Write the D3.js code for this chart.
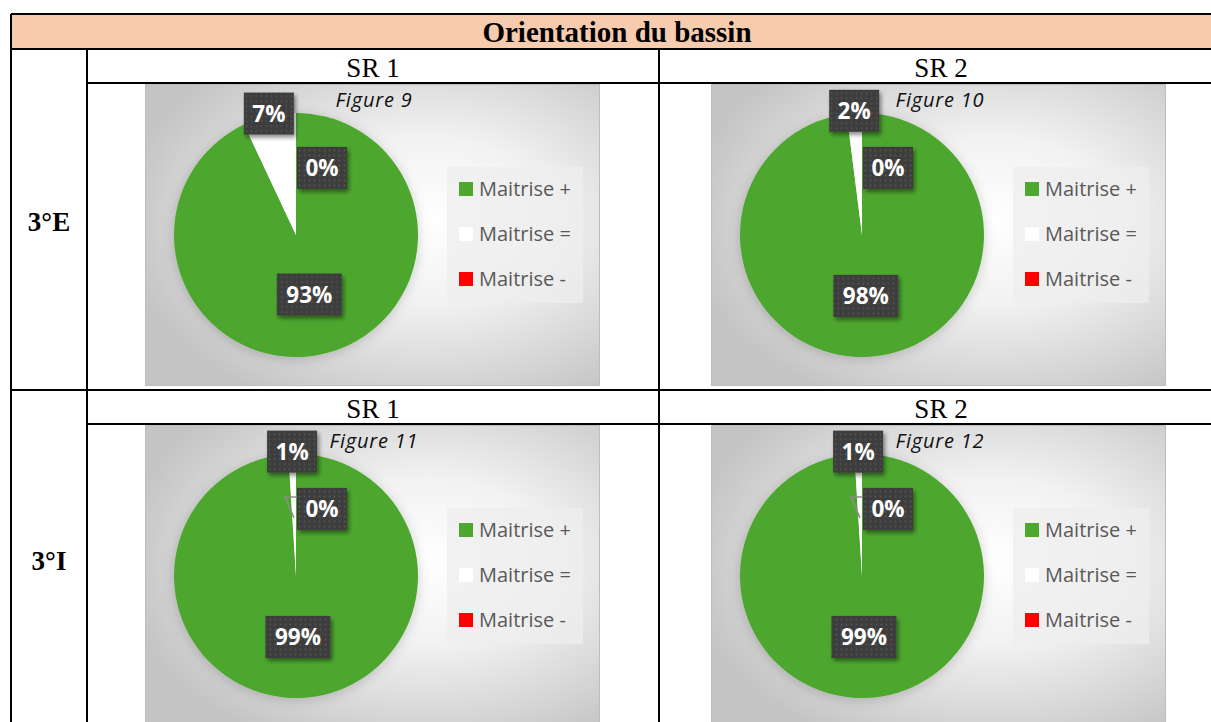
<!DOCTYPE html>
<html>
<head>
<meta charset="utf-8">
<script src="https://cdnjs.cloudflare.com/ajax/libs/d3/7.8.5/d3.min.js"></script>
<style>
  body { margin: 0; background: #fff; }
  svg { display: block; }
</style>
</head>
<body>
<svg id="chart" width="1211" height="722"></svg>
<script>
// data
const tableTitle = "Orientation du bassin";
const rowLabels = ["3°E", "3°I"];
const colLabels = ["SR 1", "SR 2"];
const categories = ["Maitrise +", "Maitrise =", "Maitrise -"];
const sliceColors = ["#4ea72e", "#ffffff", "#ff0000"];
const figureTitles = ["Figure 9", "Figure 10", "Figure 11", "Figure 12"];
const fig9 = [93, 7, 0];
const fig10 = [98, 2, 0];
const fig11 = [99, 1, 0];
const fig12 = [99, 1, 0];
const figures = [fig9, fig10, fig11, fig12];

const svg = d3.select("#chart");
const defs = svg.append("defs");

// table layout
const tLeft = 11, tRight = 1223, tTop = 14;
const titleBottom = 49;
const col1 = 87, col2 = 659;
const rowTops = [49, 390];
const srH = 34;
const chartH = 302, chartW = 455;
const chartX = [145, 711];

// shared defs
const bg = defs.append("radialGradient").attr("id", "bg")
  .attr("cx", "62%").attr("cy", "45%").attr("r", "68%");
bg.append("stop").attr("offset", "0%").attr("stop-color", "#ffffff");
bg.append("stop").attr("offset", "40%").attr("stop-color", "#f2f2f2");
bg.append("stop").attr("offset", "100%").attr("stop-color", "#c4c4c4");

const pat = defs.append("pattern").attr("id", "dots")
  .attr("width", 5).attr("height", 5).attr("patternUnits", "userSpaceOnUse");
pat.append("rect").attr("width", 5).attr("height", 5).attr("fill", "#3d3d3d");
pat.append("circle").attr("cx", 2.5).attr("cy", 2.5).attr("r", 0.9).attr("fill", "#555555");

const sh = defs.append("filter").attr("id", "shadow")
  .attr("x", "-30%").attr("y", "-30%").attr("width", "170%").attr("height", "170%");
sh.append("feDropShadow").attr("dx", 2).attr("dy", 3).attr("stdDeviation", 2)
  .attr("flood-color", "#000").attr("flood-opacity", 0.45);

const pieSh = defs.append("filter").attr("id", "pieShadow")
  .attr("x", "-20%").attr("y", "-20%").attr("width", "140%").attr("height", "140%");
pieSh.append("feDropShadow").attr("dx", 0).attr("dy", 2).attr("stdDeviation", 6)
  .attr("flood-color", "#000").attr("flood-opacity", 0.18);

// title row
svg.append("rect").attr("x", tLeft).attr("y", tTop)
  .attr("width", tRight - tLeft).attr("height", titleBottom - tTop)
  .attr("fill", "#f6cbae");
svg.append("text").attr("x", (tLeft + tRight) / 2).attr("y", 42)
  .attr("text-anchor", "middle")
  .style("font-family", "Liberation Serif").style("font-weight", "bold")
  .style("font-size", "29px").text(tableTitle);

// table lines (drawn first, charts sit over them)
const lines = svg.append("g").attr("stroke", "#000").attr("stroke-width", 2);
lines.append("line").attr("x1", tLeft).attr("x2", tRight).attr("y1", tTop).attr("y2", tTop);
lines.append("line").attr("x1", tLeft).attr("x2", tRight).attr("y1", titleBottom).attr("y2", titleBottom);
lines.append("line").attr("x1", tLeft).attr("x2", tLeft).attr("y1", tTop).attr("y2", 722);
lines.append("line").attr("x1", col1).attr("x2", col1).attr("y1", titleBottom).attr("y2", 722);
lines.append("line").attr("x1", col2).attr("x2", col2).attr("y1", titleBottom).attr("y2", 722);
rowTops.forEach(function(y, i) {
  if (i > 0) lines.append("line").attr("x1", tLeft).attr("x2", tRight).attr("y1", y).attr("y2", y);
  lines.append("line").attr("x1", col1).attr("x2", tRight).attr("y1", y + srH).attr("y2", y + srH);
});

// row and column headers
rowLabels.forEach(function(lbl, i) {
  svg.append("text").attr("x", (tLeft + col1) / 2).attr("y", i === 0 ? 231 : 570)
    .attr("text-anchor", "middle")
    .style("font-family", "Liberation Serif").style("font-weight", "bold")
    .style("font-size", "27px").text(lbl);
  colLabels.forEach(function(c, j) {
    const cx = j === 0 ? (col1 + col2) / 2 : (col2 + tRight) / 2;
    svg.append("text").attr("x", cx).attr("y", rowTops[i] + 28)
      .attr("text-anchor", "middle")
      .style("font-family", "Liberation Serif")
      .style("font-size", "27px").text(c);
  });
});

const radius = 122;
const pie = d3.pie().sort(null).value(d => d);
const arc = d3.arc().innerRadius(0).outerRadius(radius);

figures.forEach(function(values, k) {
  const row = Math.floor(k / 2), col = k % 2;
  const x0 = chartX[col], y0 = rowTops[row] + srH + 1;
  const g = svg.append("g").attr("transform", `translate(${x0},${y0})`);

  g.append("rect").attr("width", chartW).attr("height", chartH)
    .attr("fill", "url(#bg)");
  g.append("rect").attr("x", 0.5).attr("y", 0.5).attr("width", chartW - 1).attr("height", chartH - 1)
    .attr("fill", "none").attr("stroke", "#bdbdbd").attr("stroke-width", 1);

  g.append("text").attr("x", 229).attr("y", 23)
    .attr("text-anchor", "middle")
    .style("font-family", "Open Sans").style("font-style", "italic")
    .style("font-size", "20px").style("letter-spacing", "0.8px")
    .attr("fill", "#111").text(figureTitles[k]);

  const cx = 151, cy = 151;
  const pg = g.append("g").attr("transform", `translate(${cx},${cy})`);
  const arcs = pie(values);
  pg.append("g").attr("filter", "url(#pieShadow)")
    .selectAll("path").data(arcs).enter().append("path")
    .attr("d", arc)
    .attr("fill", (d, i) => sliceColors[i]);

  // labels: big slice at centroid, small slice on the rim, zero slice nudged inside
  arcs.forEach(function(d, i) {
    const mid = (d.startAngle + d.endAngle) / 2;
    let lx, ly;
    if (d.value === 0) {
      lx = 26; ly = -radius * 0.55;
    } else if (d.value < 20) {
      lx = Math.sin(mid) * radius * 1.02;
      ly = -Math.cos(mid) * radius * 1.02;
    } else {
      lx = Math.sin(mid) * radius * 0.5;
      ly = -Math.cos(mid) * radius * 0.5;
    }
    const lg = pg.append("g").attr("transform", `translate(${lx},${ly})`);
    const txt = d.value + "%";
    const w = txt.length === 2 ? 50 : 65, h = 42;
    if (d.value === 0 && row === 1) {
      pg.append("polyline")
        .attr("points", [[lx - w / 2, ly - 12], [lx - w / 2 - 12, ly - 12], [-2, ly + 9]].join(" "))
        .attr("fill", "none").attr("stroke", "#8c8c8c").attr("stroke-width", 1.5);
    }
    lg.append("rect").attr("x", -w / 2).attr("y", -h / 2)
      .attr("width", w).attr("height", h)
      .attr("fill", "url(#dots)").attr("filter", "url(#shadow)");
    lg.append("text").attr("y", 8).attr("text-anchor", "middle")
      .style("font-family", "Open Sans").style("font-weight", "bold")
      .style("font-size", "22.5px").attr("fill", "#fff").text(txt);
  });

  // legend
  const lgd = g.append("g").attr("transform", "translate(302,83)");
  lgd.append("rect").attr("width", 136).attr("height", 136)
    .attr("fill", "#eeeeee").attr("opacity", 0.75);
  categories.forEach(function(c, i) {
    const it = lgd.append("g").attr("transform", `translate(12,${22 + i * 45})`);
    it.append("rect").attr("y", -7).attr("width", 14).attr("height", 14)
      .attr("fill", sliceColors[i]);
    it.append("text").attr("x", 20).attr("y", 7)
      .style("font-family", "Open Sans").style("font-size", "20px")
      .attr("fill", "#595959").text(c);
  });
});
</script>
</body>
</html>
